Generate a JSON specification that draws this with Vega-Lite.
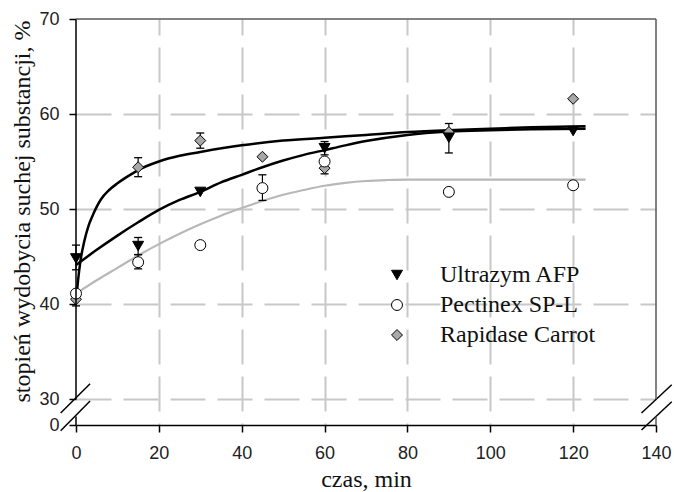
{
  "$schema": "https://vega.github.io/schema/vega-lite/v6.json",
  "width": 580,
  "height": 406,
  "autosize": {"type": "none"},
  "padding": {"left": 76, "top": 19, "right": 18, "bottom": 67},
  "background": "white",
  "config": {
    "view": {"stroke": null},
    "axis": {
      "labelFont": "Liberation Sans",
      "labelFontSize": 18,
      "labelColor": "#222222",
      "titleFont": "Liberation Serif",
      "titleFontSize": 24,
      "titleFontWeight": "normal",
      "titleColor": "#111111",
      "tickColor": "#000000",
      "tickWidth": 1.5,
      "domainColor": "#000000",
      "domainWidth": 1.5,
      "gridColor": "#c8c8c8",
      "gridWidth": 2,
      "gridDash": [35, 12],
      "gridCap": "butt",
      "labelOverlap": false,
      "labelFlush": false
    }
  },
  "datasets": {
    "points": [
      {"series": "Rapidase Carrot", "t": 0, "v": 40.5, "lo": 39.8, "hi": 41.3},
      {"series": "Rapidase Carrot", "t": 15, "v": 54.4, "lo": 53.4, "hi": 55.4},
      {"series": "Rapidase Carrot", "t": 30, "v": 57.2, "lo": 56.4, "hi": 58.0},
      {"series": "Rapidase Carrot", "t": 45, "v": 55.5},
      {"series": "Rapidase Carrot", "t": 60, "v": 54.3, "lo": 53.7, "hi": 54.9},
      {"series": "Rapidase Carrot", "t": 90, "v": 58.1},
      {"series": "Rapidase Carrot", "t": 120, "v": 61.6},
      {"series": "Pectinex SP-L", "t": 0, "v": 41.1},
      {"series": "Pectinex SP-L", "t": 15, "v": 44.4, "lo": 43.7, "hi": 45.2},
      {"series": "Pectinex SP-L", "t": 30, "v": 46.2},
      {"series": "Pectinex SP-L", "t": 45, "v": 52.2, "lo": 50.9, "hi": 53.6},
      {"series": "Pectinex SP-L", "t": 60, "v": 55.0},
      {"series": "Pectinex SP-L", "t": 90, "v": 51.8},
      {"series": "Pectinex SP-L", "t": 120, "v": 52.5},
      {"series": "Ultrazym AFP", "t": 0, "v": 44.8, "lo": 43.6, "hi": 46.2},
      {"series": "Ultrazym AFP", "t": 15, "v": 46.1, "lo": 45.2, "hi": 47.0},
      {"series": "Ultrazym AFP", "t": 30, "v": 51.8},
      {"series": "Ultrazym AFP", "t": 60, "v": 56.4, "lo": 55.7, "hi": 57.1},
      {"series": "Ultrazym AFP", "t": 90, "v": 57.5, "lo": 55.9, "hi": 59.0},
      {"series": "Ultrazym AFP", "t": 120, "v": 58.2}
    ],
    "curves": [
      {"series": "Rapidase Carrot", "t": 0, "v": 40.3},
      {"series": "Rapidase Carrot", "t": 0.5, "v": 42.5},
      {"series": "Rapidase Carrot", "t": 1, "v": 44.3},
      {"series": "Rapidase Carrot", "t": 2, "v": 46.6},
      {"series": "Rapidase Carrot", "t": 3, "v": 48.2},
      {"series": "Rapidase Carrot", "t": 4, "v": 49.3},
      {"series": "Rapidase Carrot", "t": 6, "v": 51.0},
      {"series": "Rapidase Carrot", "t": 8, "v": 52.0},
      {"series": "Rapidase Carrot", "t": 10, "v": 52.7},
      {"series": "Rapidase Carrot", "t": 12, "v": 53.3},
      {"series": "Rapidase Carrot", "t": 15, "v": 54.1},
      {"series": "Rapidase Carrot", "t": 20, "v": 55.0},
      {"series": "Rapidase Carrot", "t": 25, "v": 55.6},
      {"series": "Rapidase Carrot", "t": 30, "v": 56.0},
      {"series": "Rapidase Carrot", "t": 40, "v": 56.7},
      {"series": "Rapidase Carrot", "t": 50, "v": 57.2},
      {"series": "Rapidase Carrot", "t": 60, "v": 57.5},
      {"series": "Rapidase Carrot", "t": 70, "v": 57.8},
      {"series": "Rapidase Carrot", "t": 80, "v": 58.1},
      {"series": "Rapidase Carrot", "t": 90, "v": 58.3},
      {"series": "Rapidase Carrot", "t": 100, "v": 58.45},
      {"series": "Rapidase Carrot", "t": 110, "v": 58.6},
      {"series": "Rapidase Carrot", "t": 123, "v": 58.7},
      {"series": "Ultrazym AFP", "t": 0, "v": 44.1},
      {"series": "Ultrazym AFP", "t": 5, "v": 45.7},
      {"series": "Ultrazym AFP", "t": 10, "v": 47.2},
      {"series": "Ultrazym AFP", "t": 15, "v": 48.6},
      {"series": "Ultrazym AFP", "t": 20, "v": 49.9},
      {"series": "Ultrazym AFP", "t": 25, "v": 50.95},
      {"series": "Ultrazym AFP", "t": 30, "v": 51.8},
      {"series": "Ultrazym AFP", "t": 35, "v": 52.8},
      {"series": "Ultrazym AFP", "t": 40, "v": 53.6},
      {"series": "Ultrazym AFP", "t": 45, "v": 54.4},
      {"series": "Ultrazym AFP", "t": 50, "v": 55.1},
      {"series": "Ultrazym AFP", "t": 55, "v": 55.7},
      {"series": "Ultrazym AFP", "t": 60, "v": 56.2},
      {"series": "Ultrazym AFP", "t": 65, "v": 56.7},
      {"series": "Ultrazym AFP", "t": 70, "v": 57.15},
      {"series": "Ultrazym AFP", "t": 80, "v": 57.8},
      {"series": "Ultrazym AFP", "t": 90, "v": 58.15},
      {"series": "Ultrazym AFP", "t": 100, "v": 58.3},
      {"series": "Ultrazym AFP", "t": 110, "v": 58.4},
      {"series": "Ultrazym AFP", "t": 123, "v": 58.45},
      {"series": "Pectinex SP-L", "t": 0, "v": 41.1},
      {"series": "Pectinex SP-L", "t": 5, "v": 42.5},
      {"series": "Pectinex SP-L", "t": 10, "v": 43.8},
      {"series": "Pectinex SP-L", "t": 15, "v": 45.1},
      {"series": "Pectinex SP-L", "t": 20, "v": 46.3},
      {"series": "Pectinex SP-L", "t": 25, "v": 47.4},
      {"series": "Pectinex SP-L", "t": 30, "v": 48.4},
      {"series": "Pectinex SP-L", "t": 35, "v": 49.3},
      {"series": "Pectinex SP-L", "t": 40, "v": 50.1},
      {"series": "Pectinex SP-L", "t": 45, "v": 50.85},
      {"series": "Pectinex SP-L", "t": 50, "v": 51.5},
      {"series": "Pectinex SP-L", "t": 55, "v": 52.0},
      {"series": "Pectinex SP-L", "t": 60, "v": 52.45},
      {"series": "Pectinex SP-L", "t": 65, "v": 52.75},
      {"series": "Pectinex SP-L", "t": 70, "v": 52.95},
      {"series": "Pectinex SP-L", "t": 75, "v": 53.05},
      {"series": "Pectinex SP-L", "t": 80, "v": 53.1},
      {"series": "Pectinex SP-L", "t": 90, "v": 53.1},
      {"series": "Pectinex SP-L", "t": 100, "v": 53.1},
      {"series": "Pectinex SP-L", "t": 123, "v": 53.1}
    ],
    "frame": [
      {"kind": "axis", "x": 0, "y": 30, "x2": 0, "y2": 70},
      {"kind": "axis", "x": 0, "y": 0, "x2": 0, "y2": 9.8},
      {"kind": "border", "x": 0, "y": 70, "x2": 140, "y2": 70},
      {"kind": "border", "x": 140, "y": 30, "x2": 140, "y2": 70},
      {"kind": "border", "x": 140, "y": 0, "x2": 140, "y2": 9.6},
      {"kind": "break", "x": -3.7, "y": 13.8, "x2": 3.4, "y2": 31.6},
      {"kind": "break", "x": -3.7, "y": -6.6, "x2": 3.4, "y2": 27.7},
      {"kind": "break", "x": 136.5, "y": 13.8, "x2": 143.8, "y2": 31.5},
      {"kind": "break", "x": 136.5, "y": -5.8, "x2": 143.8, "y2": 26.9}
    ]
  },
  "layer": [
    {
      "data": {"name": "curves"},
      "transform": [{"filter": "datum.series == 'Pectinex SP-L'"}],
      "mark": {"type": "line", "color": "#b8b8b8", "strokeWidth": 2.2, "interpolate": "monotone"},
      "encoding": {
        "x": {
          "field": "t", "type": "quantitative",
          "scale": {"domain": [0, 140], "nice": false, "zero": false},
          "axis": {
            "title": "czas, min",
            "values": [0, 20, 40, 60, 80, 100, 120, 140],
            "tickSize": 7,
            "labelPadding": 12,
            "titlePadding": 5,
            "gridDashOffset": 19,
            "gridOpacity": {"condition": {"test": "datum.value == 0 || datum.value == 140", "value": 0}, "value": 1}
          }
        },
        "y": {
          "field": "v", "type": "quantitative",
          "scale": {"domain": [0, 30, 70], "range": [406, 380, 0], "nice": false, "zero": false},
          "axis": {
            "title": "stopień wydobycia suchej substancji, %",
            "values": [0, 30, 40, 50, 60, 70],
            "domain": false,
            "tickSize": 7,
            "labelPadding": 10,
            "titlePadding": 4,
            "titleY": 192,
            "gridOpacity": {"condition": {"test": "datum.value == 0 || datum.value == 70", "value": 0}, "value": 1}
          }
        },
        "detail": {"field": "series"}
      }
    },
    {
      "data": {"name": "curves"},
      "transform": [{"filter": "datum.series != 'Pectinex SP-L'"}],
      "mark": {"type": "line", "color": "#000000", "strokeWidth": 2.5, "interpolate": "monotone"},
      "encoding": {
        "x": {"field": "t", "type": "quantitative"},
        "y": {"field": "v", "type": "quantitative"},
        "detail": {"field": "series"}
      }
    },
    {
      "data": {"name": "points"},
      "transform": [{"filter": "isValid(datum.lo)"}],
      "mark": {"type": "rule", "color": "#000000", "strokeWidth": 1.2},
      "encoding": {
        "x": {"field": "t", "type": "quantitative"},
        "y": {"field": "lo", "type": "quantitative"},
        "y2": {"field": "hi"}
      }
    },
    {
      "data": {"name": "points"},
      "transform": [{"filter": "isValid(datum.lo)"}],
      "mark": {"type": "tick", "orient": "horizontal", "size": 8, "thickness": 1.3, "color": "#000000", "opacity": 1},
      "encoding": {
        "x": {"field": "t", "type": "quantitative"},
        "y": {"field": "lo", "type": "quantitative"}
      }
    },
    {
      "data": {"name": "points"},
      "transform": [{"filter": "isValid(datum.hi)"}],
      "mark": {"type": "tick", "orient": "horizontal", "size": 8, "thickness": 1.3, "color": "#000000", "opacity": 1},
      "encoding": {
        "x": {"field": "t", "type": "quantitative"},
        "y": {"field": "hi", "type": "quantitative"}
      }
    },
    {
      "data": {"name": "points"},
      "mark": {"type": "point", "filled": true, "size": 120, "strokeWidth": 1, "opacity": 1},
      "encoding": {
        "x": {"field": "t", "type": "quantitative"},
        "y": {"field": "v", "type": "quantitative"},
        "shape": {
          "field": "series", "type": "nominal",
          "scale": {"domain": ["Ultrazym AFP", "Pectinex SP-L", "Rapidase Carrot"], "range": ["triangle-down", "circle", "diamond"]},
          "legend": {
            "title": null, "orient": "none", "legendX": 309, "legendY": 244,
            "labelFont": "Liberation Serif", "labelFontSize": 24, "labelColor": "#111111",
            "symbolSize": 120, "symbolStrokeWidth": 1,
            "labelOffset": 31, "rowPadding": 6, "padding": 0
          }
        },
        "fill": {
          "field": "series", "type": "nominal",
          "scale": {"domain": ["Ultrazym AFP", "Pectinex SP-L", "Rapidase Carrot"], "range": ["#000000", "#ffffff", "#a8a8a8"]},
          "legend": {
            "title": null, "orient": "none", "legendX": 309, "legendY": 244,
            "labelFont": "Liberation Serif", "labelFontSize": 24, "labelColor": "#111111",
            "symbolSize": 120, "symbolStrokeWidth": 1,
            "labelOffset": 31, "rowPadding": 6, "padding": 0
          }
        },
        "stroke": {
          "field": "series", "type": "nominal",
          "scale": {"domain": ["Ultrazym AFP", "Pectinex SP-L", "Rapidase Carrot"], "range": ["#000000", "#000000", "#000000"]},
          "legend": {
            "title": null, "orient": "none", "legendX": 309, "legendY": 244,
            "labelFont": "Liberation Serif", "labelFontSize": 24, "labelColor": "#111111",
            "symbolSize": 120, "symbolStrokeWidth": 1,
            "labelOffset": 31, "rowPadding": 6, "padding": 0
          }
        }
      }
    },
    {
      "data": {"name": "frame"},
      "transform": [{"filter": "datum.kind != 'border'"}],
      "mark": {"type": "rule", "color": "#000000", "strokeWidth": 1.5},
      "encoding": {
        "x": {"field": "x", "type": "quantitative"},
        "y": {"field": "y", "type": "quantitative"},
        "x2": {"field": "x2"},
        "y2": {"field": "y2"}
      }
    },
    {
      "data": {"name": "frame"},
      "transform": [{"filter": "datum.kind == 'border'"}],
      "mark": {"type": "rule", "color": "#5a5a5a", "strokeWidth": 1.5},
      "encoding": {
        "x": {"field": "x", "type": "quantitative"},
        "y": {"field": "y", "type": "quantitative"},
        "x2": {"field": "x2"},
        "y2": {"field": "y2"}
      }
    }
  ]
}
